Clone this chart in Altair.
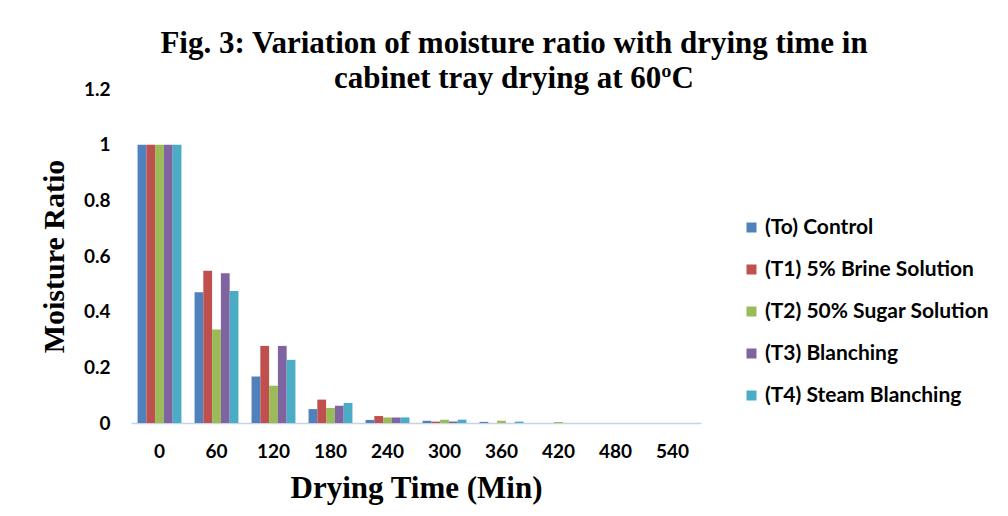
import altair as alt
import pandas as pd

times = ["0", "60", "120", "180", "240", "300", "360", "420", "480", "540"]
series = ["(To) Control", "(T1) 5% Brine Solution", "(T2) 50% Sugar Solution",
          "(T3) Blanching", "(T4) Steam Blanching"]
t0 = [1.0, 0.47, 0.167, 0.050, 0.011, 0.008, 0.004, 0.0, 0.0, 0.0]
t1 = [1.0, 0.547, 0.277, 0.084, 0.025, 0.005, 0.0, 0.0, 0.0, 0.0]
t2 = [1.0, 0.336, 0.134, 0.054, 0.020, 0.012, 0.008, 0.004, 0.0, 0.0]
t3 = [1.0, 0.538, 0.277, 0.062, 0.020, 0.005, 0.0, 0.0, 0.0, 0.0]
t4 = [1.0, 0.474, 0.227, 0.072, 0.020, 0.012, 0.005, 0.0, 0.0, 0.0]
colors = ["#4F81BD", "#C0504D", "#9BBB59", "#8064A2", "#4BACC6"]

rows = []
for name, vals in zip(series, [t0, t1, t2, t3, t4]):
    for t, v in zip(times, vals):
        rows.append({"time": t, "series": name, "value": v})
df = pd.DataFrame(rows)

label_font = "Lato"
serif = "Liberation Serif"

chart = alt.Chart(df).mark_bar().encode(
    x=alt.X("time:N", sort=times,
            scale=alt.Scale(paddingInner=0.23, paddingOuter=0.115),
            axis=alt.Axis(title="Drying Time (Min)", labelAngle=0, ticks=False,
                          domainColor="#C6D3E3", domainWidth=1.5,
                          labelFont=label_font, labelFontSize=19, labelFontWeight="bold",
                          labelColor="#000000", labelPadding=19,
                          titleFont=serif, titleFontSize=31, titleFontWeight="bold",
                          titleColor="#000000", titlePadding=12)),
    xOffset=alt.XOffset("series:N", sort=series, scale=alt.Scale(paddingInner=0)),
    y=alt.Y("value:Q", scale=alt.Scale(domain=[0, 1.2], nice=False),
            axis=alt.Axis(title="Moisture Ratio", values=[0, 0.2, 0.4, 0.6, 0.8, 1.0, 1.2],
                          format=".1~f",
                          grid=False, domain=False, ticks=False,
                          labelFont=label_font, labelFontSize=19, labelFontWeight="bold",
                          labelColor="#000000", labelPadding=21,
                          titleFont=serif, titleFontSize=30, titleFontWeight="bold",
                          titleColor="#000000", titlePadding=14)),
    color=alt.Color("series:N", sort=series,
                    scale=alt.Scale(domain=series, range=colors),
                    legend=alt.Legend(title=None, orient="none", legendX=610, legendY=128,
                                      symbolType="square", symbolSize=100,
                                      symbolStrokeWidth=0,
                                      labelFont=label_font, labelFontSize=21,
                                      labelFontWeight="bold", labelColor="#000000",
                                      labelOffset=3, labelLimit=400, rowPadding=20)),
).properties(
    width=570,
    height=334,
    background="#FFFFFF",
    title=alt.TitleParams(
        text=["Fig. 3: Variation of moisture ratio with drying time in",
              "cabinet tray drying at 60ºC"],
        font=serif, fontSize=31, fontWeight="bold", color="#000000",
        lineHeight=35, anchor="middle", offset=-15, dx=98),
    autosize=alt.AutoSizeParams(type="none"),
    padding={"left": 131, "top": 89, "right": 307, "bottom": 93},
).configure_view(strokeWidth=0, stroke=None)

chart.save("out.html", embed_options={"renderer": "svg", "actions": False})
